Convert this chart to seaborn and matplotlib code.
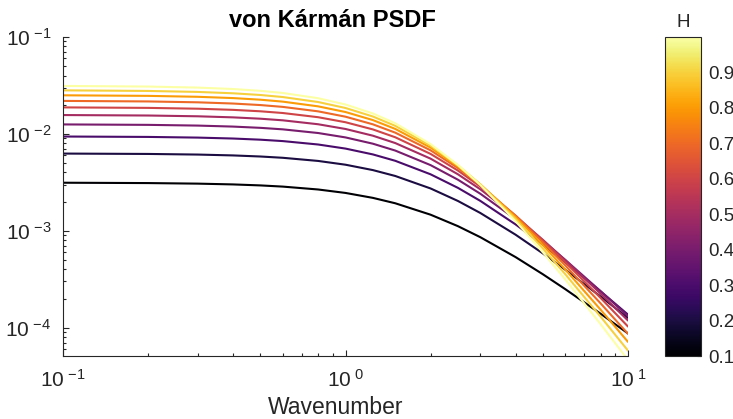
import numpy as np
import pandas as pd
import matplotlib
matplotlib.use("Agg")
import matplotlib.pyplot as plt
from matplotlib.ticker import LogLocator, FixedLocator, FuncFormatter, NullFormatter
import seaborn as sns

# Wavenumbers at which each spectrum is sampled
wavenumber = [0.1, 0.2, 0.3, 0.4, 0.5, 0.6, 0.8, 1.0, 1.25, 1.5,
              2.0, 2.5, 3.0, 4.0, 5.0, 6.0, 8.0, 10.0]

# Hurst exponents of the curves
hurst = [0.1, 0.2, 0.3, 0.4, 0.5, 0.6, 0.7, 0.8, 0.9, 1.0]

# Power spectral density for each Hurst exponent
psd_h01 = [3.133e-3, 3.107e-3, 3.066e-3, 3.009e-3, 2.939e-3, 2.857e-3, 2.668e-3, 2.458e-3, 2.186e-3,
           1.923e-3, 1.466e-3, 1.116e-3, 8.59e-4, 5.35e-4, 3.554e-4, 2.495e-4, 1.392e-4, 8.72e-5]
psd_h02 = [6.264e-3, 6.209e-3, 6.118e-3, 5.994e-3, 5.842e-3, 5.666e-3, 5.258e-3, 4.807e-3, 4.230e-3,
           3.678e-3, 2.735e-3, 2.031e-3, 1.527e-3, 9.108e-4, 5.831e-4, 3.964e-4, 2.097e-4, 1.260e-4]
psd_h03 = [9.394e-3, 9.304e-3, 9.156e-3, 8.956e-3, 8.711e-3, 8.426e-3, 7.771e-3, 7.052e-3, 6.139e-3,
           5.276e-3, 3.828e-3, 2.773e-3, 2.036e-3, 1.163e-3, 7.175e-4, 4.724e-4, 2.370e-4, 1.364e-4]
psd_h04 = [1.2523e-2, 1.2393e-2, 1.2181e-2, 1.1895e-2, 1.1544e-2, 1.1138e-2, 1.0209e-2, 9.195e-3, 7.920e-3,
           6.728e-3, 4.762e-3, 3.366e-3, 2.413e-3, 1.320e-3, 7.848e-4, 5.003e-4, 2.380e-4, 1.313e-4]
psd_h05 = [1.5649e-2, 1.5475e-2, 1.5192e-2, 1.4810e-2, 1.4343e-2, 1.3803e-2, 1.2573e-2, 1.1240e-2, 9.579e-3,
           8.042e-3, 5.554e-3, 3.829e-3, 2.681e-3, 1.405e-3, 8.047e-4, 4.967e-4, 2.241e-4, 1.185e-4]
psd_h06 = [1.8774e-2, 1.8552e-2, 1.8190e-2, 1.7703e-2, 1.7107e-2, 1.6422e-2, 1.4865e-2, 1.3190e-2, 1.1122e-2,
           9.230e-3, 6.218e-3, 4.183e-3, 2.860e-3, 1.435e-3, 7.921e-4, 4.735e-4, 2.026e-4, 1.027e-4]
psd_h07 = [2.1898e-2, 2.1622e-2, 2.1175e-2, 2.0573e-2, 1.9838e-2, 1.8994e-2, 1.7087e-2, 1.5049e-2, 1.2554e-2,
           1.0298e-2, 6.769e-3, 4.441e-3, 2.965e-3, 1.426e-3, 7.580e-4, 4.388e-4, 1.780e-4, 8.646e-5]
psd_h08 = [2.5020e-2, 2.4686e-2, 2.4146e-2, 2.3419e-2, 2.2534e-2, 2.1521e-2, 1.9241e-2, 1.6819e-2, 1.3882e-2,
           1.1255e-2, 7.217e-3, 4.620e-3, 3.012e-3, 1.387e-3, 7.106e-4, 3.983e-4, 1.533e-4, 7.133e-5]
psd_h09 = [2.8141e-2, 2.7745e-2, 2.7104e-2, 2.6244e-2, 2.5198e-2, 2.4004e-2, 2.1326e-2, 1.8504e-2, 1.5111e-2,
           1.2110e-2, 7.576e-3, 4.731e-3, 3.012e-3, 1.328e-3, 6.558e-4, 3.559e-4, 1.299e-4, 5.793e-5]
psd_h10 = [3.1259e-2, 3.0797e-2, 3.0049e-2, 2.9046e-2, 2.7829e-2, 2.6442e-2, 2.3347e-2, 2.0106e-2, 1.6245e-2,
           1.2868e-2, 7.854e-3, 4.784e-3, 2.974e-3, 1.257e-3, 5.977e-4, 3.142e-4, 1.087e-4, 4.647e-5]

psd_curves = [psd_h01, psd_h02, psd_h03, psd_h04, psd_h05,
              psd_h06, psd_h07, psd_h08, psd_h09, psd_h10]

colorbar_ticks = [0.1, 0.2, 0.3, 0.4, 0.5, 0.6, 0.7, 0.8, 0.9]

# Long-form table for seaborn
frames = []
for h, psd in zip(hurst, psd_curves):
    frames.append(pd.DataFrame({"k": wavenumber, "P": psd, "H": h}))
df = pd.concat(frames, ignore_index=True)

sns.set_style("ticks")
plt.rcParams["font.family"] = ["Liberation Sans", "DejaVu Sans"]
plt.rcParams["mathtext.fontset"] = "custom"
plt.rcParams["mathtext.rm"] = "Liberation Sans"
plt.rcParams["mathtext.it"] = "Liberation Sans:italic"
plt.rcParams["mathtext.bf"] = "Liberation Sans:bold"

ink = "#262626"
W, H_px = 733, 419
fig = plt.figure(figsize=(W / 100, H_px / 100), dpi=100)
ax = fig.add_axes([63 / W, 1 - 356 / H_px, 565 / W, 319 / H_px])
cax = fig.add_axes([665 / W, 1 - 356 / H_px, 36 / W, 319 / H_px])

vmin, vmax = 0.1, 1.0
sns.lineplot(data=df, x="k", y="P", hue="H", palette="inferno",
             hue_norm=(vmin, vmax), legend=False, linewidth=1.5,
             estimator=None, sort=False, ax=ax)

ax.set_xscale("log")
ax.set_yscale("log")
ax.set_xlim(0.1, 10)
ax.set_ylim(5.1e-5, 0.1)


def pow10(val, pos):
    e = int(round(np.log10(val)))
    return r"$\mathdefault{10^{\ {%d}}}$" % e


ax.xaxis.set_major_locator(FixedLocator([0.1, 1, 10]))
ax.yaxis.set_major_locator(FixedLocator([1e-4, 1e-3, 1e-2, 1e-1]))
ax.xaxis.set_major_formatter(FuncFormatter(pow10))
ax.yaxis.set_major_formatter(FuncFormatter(pow10))
ax.xaxis.set_minor_locator(LogLocator(base=10, subs=np.arange(2, 10), numticks=20))
ax.yaxis.set_minor_locator(LogLocator(base=10, subs=np.arange(2, 10), numticks=20))
ax.xaxis.set_minor_formatter(NullFormatter())
ax.yaxis.set_minor_formatter(NullFormatter())

sns.despine(ax=ax)
for s in ("left", "bottom"):
    ax.spines[s].set_color(ink)
    ax.spines[s].set_linewidth(0.8)
ax.tick_params(which="both", direction="in", colors=ink, width=0.8)
ax.tick_params(which="major", length=4.3, labelsize=15, labelcolor=ink)
ax.tick_params(axis="y", which="major", pad=8.5)
ax.tick_params(axis="x", which="major", pad=9)
ax.tick_params(which="minor", length=2.5)

ax.set_xlabel("Wavenumber", fontsize=16.5, color=ink)
ax.xaxis.set_label_coords((336 - 63) / 565, (356 - 414) / 319)
ax.xaxis.label.set_va("baseline")
ax.set_ylabel("")
ax.set_title("von Kármán PSDF", fontsize=17, fontweight="bold", color="black",
             x=(332 - 63) / 565, pad=7)

# Colour bar for the Hurst exponent
sm = plt.cm.ScalarMappable(cmap="inferno", norm=plt.Normalize(vmin, vmax))
cb = fig.colorbar(sm, cax=cax, ticks=colorbar_ticks)
cb.ax.set_yticklabels([f"{t:.1f}" for t in colorbar_ticks])
cb.outline.set_edgecolor(ink)
cb.outline.set_linewidth(0.8)
cax.tick_params(direction="in", length=3, width=0.8, colors=ink,
                labelsize=13.5, labelcolor=ink, pad=5)
cax.yaxis.set_tick_params(which="minor", length=0)
cax.set_title("H", fontsize=13.5, color=ink, pad=7)

fig.savefig("out.png", dpi=100)
